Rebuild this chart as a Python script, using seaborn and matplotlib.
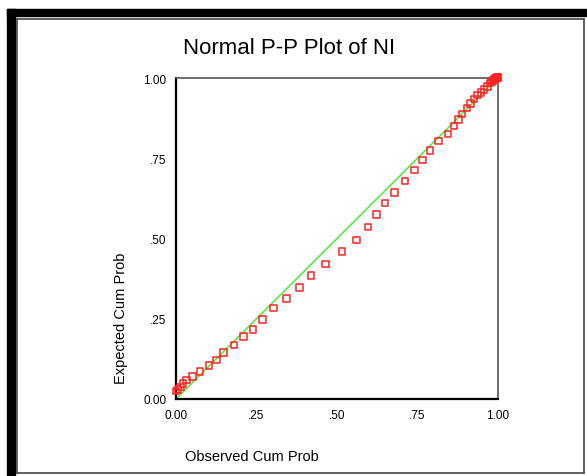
import matplotlib
matplotlib.use("Agg")
import matplotlib.pyplot as plt
import seaborn as sns
import pandas as pd
from matplotlib.patches import Rectangle
from matplotlib.lines import Line2D
from matplotlib.ticker import FixedLocator, FixedFormatter

observed = [0.000, 0.006, 0.014, 0.021, 0.033, 0.051, 0.075, 0.103, 0.125, 0.147,
            0.180, 0.210, 0.239, 0.269, 0.302, 0.343, 0.383, 0.420, 0.465, 0.516,
            0.561, 0.597, 0.623, 0.649, 0.678, 0.711, 0.740, 0.766, 0.789, 0.815,
            0.844, 0.863, 0.877, 0.888, 0.903, 0.915, 0.925, 0.936, 0.947, 0.957,
            0.967, 0.975, 0.980, 0.984, 0.988, 0.991, 0.994, 0.996, 0.998, 1.000]
expected = [0.025, 0.030, 0.038, 0.049, 0.059, 0.070, 0.085, 0.104, 0.122, 0.145,
            0.168, 0.194, 0.217, 0.247, 0.283, 0.313, 0.348, 0.384, 0.421, 0.459,
            0.496, 0.536, 0.574, 0.611, 0.644, 0.679, 0.714, 0.745, 0.774, 0.804,
            0.826, 0.851, 0.870, 0.888, 0.906, 0.921, 0.935, 0.947, 0.955, 0.964,
            0.974, 0.984, 0.988, 0.992, 0.995, 0.998, 0.999, 1.000, 1.001, 1.002]
ref_line = [0.0, 1.0]
tick_values = [0.0, 0.25, 0.5, 0.75, 1.0]
tick_labels = ["0.00", ".25", ".50", ".75", "1.00"]

sns.set_style("white")
plt.rcParams["font.family"] = ["Liberation Sans", "DejaVu Sans"]

W, H = 587, 477
fig = plt.figure(figsize=(W / 100, H / 100), dpi=100)
fig.patch.set_facecolor("white")

# frame decorations (figure pixel coordinates converted to fractions)
def fx(px):
    return px / W

def fy(py):
    return 1 - py / H

fig.patches.append(Rectangle((fx(7), fy(17)), fx(587) - fx(7), fy(10) - fy(17),
                             transform=fig.transFigure, color="black", zorder=0))
fig.patches.append(Rectangle((fx(7), fy(477)), fx(15) - fx(7), fy(10) - fy(477),
                             transform=fig.transFigure, color="black", zorder=0))
for (x0, y0, x1, y1) in [(16.5, 19.5, 584, 19.5), (16.5, 19.5, 16.5, 473.5),
                         (584, 19.5, 584, 473.5), (16.5, 473.5, 584, 473.5)]:
    fig.lines.append(Line2D([fx(x0), fx(x1)], [fy(y0), fy(y1)], transform=fig.transFigure,
                            color="#444444", lw=1.2))

ax = fig.add_axes([fx(176), fy(400), fx(498) - fx(176), fy(79) - fy(400)])

df = pd.DataFrame({"Observed Cum Prob": observed, "Expected Cum Prob": expected})
line_df = pd.DataFrame({"x": ref_line, "y": ref_line})

sns.lineplot(data=line_df, x="x", y="y", ax=ax, color="#44ee33", lw=1.1, zorder=2)
sns.scatterplot(data=df, x="Observed Cum Prob", y="Expected Cum Prob", ax=ax,
                marker="s", s=22, facecolor="none", edgecolor="#ff2020",
                linewidth=1.1, zorder=3, clip_on=False)

ax.set_xlim(0, 1)
ax.set_ylim(0, 1)
ax.xaxis.set_major_locator(FixedLocator(tick_values))
ax.xaxis.set_major_formatter(FixedFormatter(tick_labels))
ax.yaxis.set_major_locator(FixedLocator(tick_values))
ax.yaxis.set_major_formatter(FixedFormatter(tick_labels))
ax.tick_params(axis="both", direction="out", length=3, width=2.5, colors="black",
               labelsize=8.5, pad=4)
ax.set_xlabel("")
ax.set_ylabel("")

for side in ["left", "bottom"]:
    ax.spines[side].set_color("black")
    ax.spines[side].set_linewidth(1.6)
for side in ["top", "right"]:
    ax.spines[side].set_visible(True)
    ax.spines[side].set_color("#555555")
    ax.spines[side].set_linewidth(1.2)

fig.text(fx(289), fy(49), "Normal P-P Plot of NI", ha="center", va="center",
         fontsize=16, color="black")
fig.text(fx(252), fy(457), "Observed Cum Prob", ha="center", va="center",
         fontsize=10.5, color="black")
fig.text(fx(121), fy(318), "Expected Cum Prob", ha="center", va="center",
         rotation=90, fontsize=10.5, color="black")

fig.savefig("out.png", dpi=100, facecolor="white")
